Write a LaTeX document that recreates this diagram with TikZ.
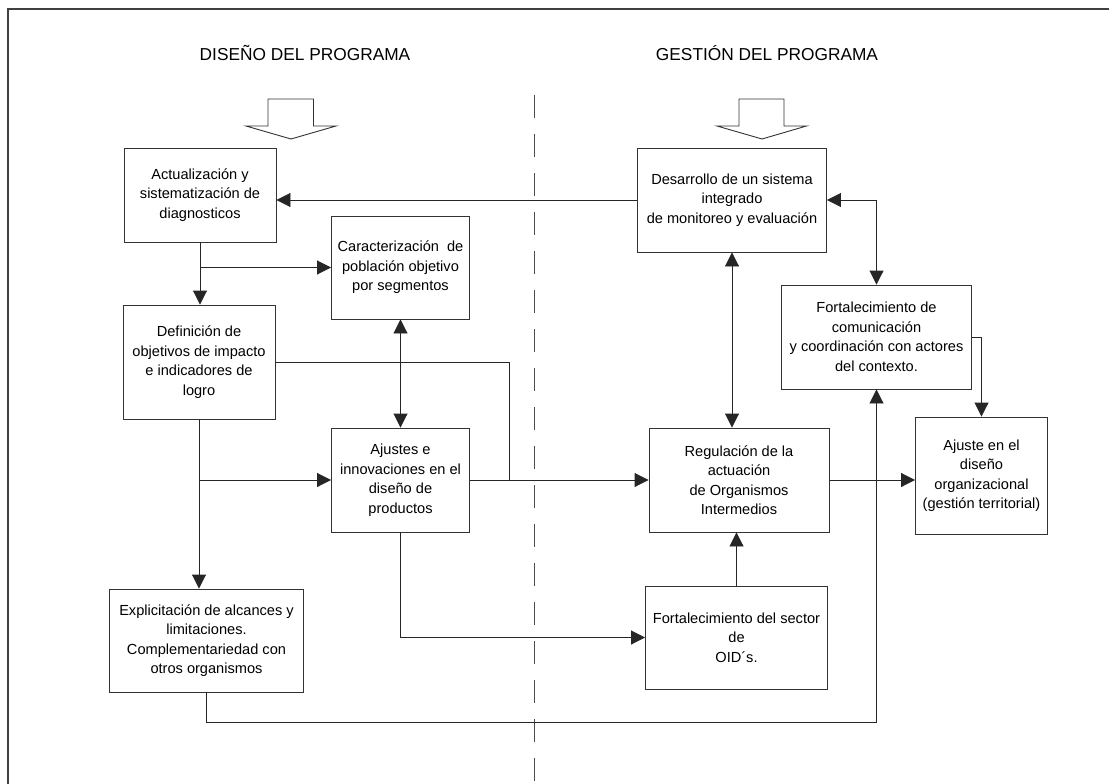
\documentclass[tikz,border=0pt]{standalone}
\usepackage{fontspec}
\setmainfont{Liberation Sans}
\usetikzlibrary{arrows.meta}
\begin{document}
\begin{tikzpicture}[x=1pt,y=-1pt,
  every node/.style={inner sep=0pt},
  bx/.style={draw=black!80, line width=0.9pt, align=center, font=\fontsize{14.6}{19.5}\selectfont},
  ttl/.style={font=\fontsize{17.3}{20}\selectfont},
  conn/.style={draw=black!85, line width=0.9pt},
  arr/.style={conn, -{Triangle[length=14pt,width=14pt]}},
  arrb/.style={conn, {Triangle[length=14pt,width=14pt]}-{Triangle[length=14pt,width=14pt]}},
  blockarrow/.style={draw=black!80, line width=0.9pt, fill=white}
]
\useasboundingbox (0,0) rectangle (1109,784);
\fill[white] (0,0) rectangle (1109,784);
% frame
\draw[black!75, line width=1.3pt] (1109,9) -- (8,9) -- (8,784);
% dashed divider
\draw[black!70, line width=0.9pt, dash pattern=on 23pt off 16pt] (534,95) -- (534,784);
% titles
\node[ttl] (t1) at (305,53) {DISEÑO DEL PROGRAMA};
\node[ttl] (t2) at (767,53) {GESTIÓN DEL PROGRAMA};
% block arrows
\draw[blockarrow] (246,126) -- (268,126) -- (268,99) -- (313.5,99) -- (313.5,126) -- (336,126) -- (291,139) -- cycle;
\draw[blockarrow] (717,126) -- (739,126) -- (739,99) -- (784,99) -- (784,126) -- (806.5,126) -- (762,139) -- cycle;
% boxes
\node[bx, minimum width=152pt, minimum height=94pt] (A) at (200,195) {Actualización y\\sistematización de\\diagnosticos};
\node[bx, minimum width=138pt, minimum height=103pt] (C) at (400.5,267.5) {Caracterización~ de\\población objetivo\\por segmentos};
\node[bx, minimum width=152pt, minimum height=114pt] (D) at (199,362) {Definición de\\objetivos de impacto\\e indicadores de\\logro};
\node[bx, minimum width=138pt, minimum height=104pt] (J) at (400.5,480) {Ajustes e\\innovaciones en el\\diseño de\\productos};
\node[bx, minimum width=194pt, minimum height=103pt] (E) at (206.5,640.5) {Explicitación de alcances y\\limitaciones.\\Complementariedad con\\otros organismos};
\node[bx, minimum width=189pt, minimum height=104pt] (M) at (732,200) {Desarrollo de un sistema\\integrado\\de monitoreo y evaluación};
\node[bx, minimum width=190pt, minimum height=104pt] (F) at (876.5,337) {Fortalecimiento de\\comunicación\\y coordinación con actores\\del contexto.};
\node[bx, minimum width=180pt, minimum height=104pt] (R) at (739,480) {Regulación de la\\actuación\\de Organismos\\Intermedios};
\node[bx, minimum width=182pt, minimum height=103pt] (O) at (736.5,637.5) {Fortalecimiento del sector\\de\\OID´s.};
\node[bx, minimum width=132pt, minimum height=117pt] (Aj) at (981.5,475.5) {Ajuste en el\\diseño\\organizacional\\(gestión territorial)};
% coordinates
\coordinate (dk) at (509,362);
\coordinate (jk) at (509,480);
% connectors
\draw[arr] (A.south) -- (A.south |- D.north);
\draw[arr] (A.south |- C.west) -- (C.west);
\draw[arr] (M.west) -- (M.west -| A.east);
\draw[arrb] (C.south) -- (J.north);
\draw[arr] (D.south) -- (D.south |- E.north);
\draw[arr] (D.south |- J.west) -- (J.west);
\draw[conn] (D.east |- dk) -- (dk) -- (jk);
\draw[arr] (J.east) -- (R.west);
\draw[arr] (J.south) |- (O.west);
\draw[arr] (E.south) -- ++(0,30) -| (F.south);
\draw[arr] (O.north) -- (O.north |- R.south);
\draw[arrb] (M.south) -- (M.south |- R.north);
\draw[arrb] (M.east) -| (F.north);
\draw[arr] (F.east) -| (Aj.north);
\draw[arr] (R.east) -- (R.east -| Aj.west);
\end{tikzpicture}
\end{document}
